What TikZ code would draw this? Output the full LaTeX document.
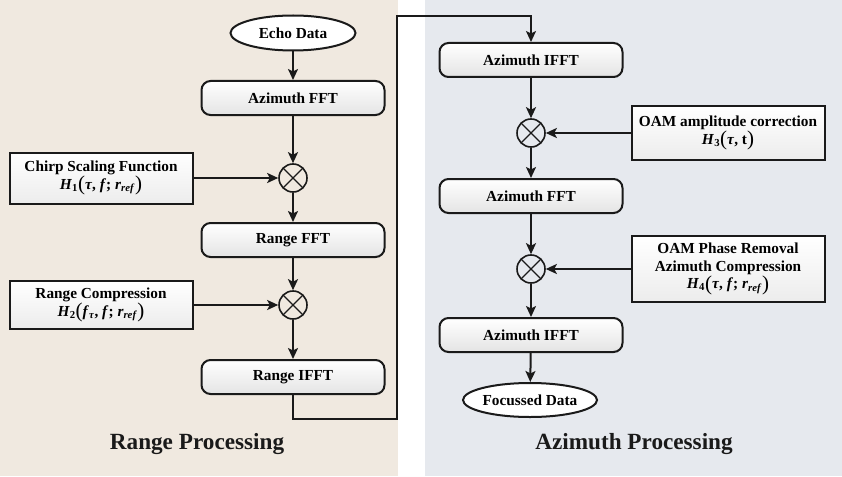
\documentclass[tikz,border=0pt]{standalone}
\usepackage{fontspec}
\setmainfont{Liberation Serif}
\usetikzlibrary{arrows.meta, positioning, shapes.geometric}
\definecolor{rangebg}{HTML}{F0E9E0}
\definecolor{azimbg}{HTML}{E6E9EE}
\definecolor{inkline}{HTML}{1A1A1A}
\definecolor{boxshade}{HTML}{E4E4E4}
\newcommand{\bi}[1]{\textbf{\textit{#1}}}
\newcommand{\bpar}[1]{\raisebox{-0.12em}{\fontsize{21}{21}\selectfont\mdseries(}#1\raisebox{-0.12em}{\fontsize{21}{21}\selectfont\mdseries)}}

\begin{document}
\begin{tikzpicture}[
    x=1pt, y=-1pt,
    stepbox/.style={
        draw=inkline, line width=2pt, rounded corners=9pt,
        minimum width=183pt, minimum height=34pt,
        top color=white, bottom color=boxshade,
        font=\fontsize{15.3}{18}\selectfont\bfseries
    },
    funcbox/.style={
        draw=inkline, line width=2pt,
        minimum width=183pt, align=center,
        top color=white, bottom color=boxshade!70,
        font=\fontsize{15.3}{18}\selectfont\bfseries
    },
    datanode/.style={
        ellipse, draw=inkline, line width=2pt, fill=white,
        minimum width=125pt, minimum height=35pt, inner sep=0pt,
        font=\fontsize{15.3}{18}\selectfont\bfseries
    },
    mixer/.style={
        circle, draw=inkline, line width=1.6pt,
        minimum size=28pt, inner sep=0pt,
        path picture={
            \draw[inkline, line width=1.3pt]
                ([shift={(45:14pt)}]path picture bounding box.center) --
                ([shift={(225:14pt)}]path picture bounding box.center)
                ([shift={(135:14pt)}]path picture bounding box.center) --
                ([shift={(-45:14pt)}]path picture bounding box.center);
        }
    },
    flow/.style={
        -{Stealth[length=11pt, width=10pt, inset=2.5pt]},
        line width=2pt, draw=inkline
    },
    paneltitle/.style={
        font=\fontsize{23.2}{26}\selectfont\bfseries, text=inkline
    },
]

% === Panels ===
\useasboundingbox (0,0) rectangle (842,476);
\fill[white] (0,0) rectangle (842,476);
\fill[rangebg] (0,0) rectangle (398,476);
\fill[azimbg] (425,0) rectangle (842,476);

% === Range processing chain ===
\node[datanode] (echo) at (293,33) {Echo Data};
\node[stepbox] (azfft) at (293,98) {Azimuth FFT};
\node[mixer] (mul1) at (293,178) {};
\node[stepbox] (rfft) at (293,240) {Range FFT};
\node[mixer] (mul2) at (293,305) {};
\node[stepbox] (rifft) at (293,377) {Range IFFT};

% Reference functions
\node[funcbox, minimum height=51pt] (chirp) at (101,178)
    {Chirp Scaling Function\\
     \bi{H}\textsubscript{1}\bpar{\bi{τ}, \bi{f}; \bi{r}\textsubscript{\bi{ref}}}};
\node[funcbox, minimum height=48pt] (rcomp) at (101,305)
    {Range Compression\\
     \bi{H}\textsubscript{2}\bpar{\bi{f}\textsubscript{\bi{τ}}, \bi{f}; \bi{r}\textsubscript{\bi{ref}}}};

% === Azimuth processing chain ===
\node[stepbox] (aifft) at (531,60) {Azimuth IFFT};
\node[mixer] (mul3) at (531,133) {};
\node[stepbox] (afft) at (531,196) {Azimuth FFT};
\node[mixer] (mul4) at (531,269) {};
\node[stepbox] (aifftb) at (531,335) {Azimuth IFFT};
\node[datanode, minimum width=124pt, minimum height=34pt] (focus) at (530,400) {Focussed Data};

% Reference functions
\node[funcbox, minimum width=193pt, minimum height=53pt] (oamamp) at (728,133)
    {OAM amplitude correction\\
     \bi{H}\textsubscript{3}\bpar{\bi{τ}, t}};
\node[funcbox, minimum width=193pt, minimum height=66pt, inner ysep=2pt,
      font=\fontsize{15.3}{17.5}\selectfont\bfseries] (oamphase) at (728,269)
    {OAM Phase Removal\\Azimuth Compression\\
     \bi{H}\textsubscript{4}\bpar{\bi{τ}, \bi{f}; \bi{r}\textsubscript{\bi{ref}}}};

% === Connectors ===
\draw[flow] (echo) -- (azfft);
\draw[flow] (azfft) -- (mul1);
\draw[flow] (mul1) -- (rfft);
\draw[flow] (rfft) -- (mul2);
\draw[flow] (mul2) -- (rifft);
\draw[flow] (chirp) -- (mul1);
\draw[flow] (rcomp) -- (mul2);

% bridge between the two stages
\coordinate (turnlow) at (397,419);
\coordinate (turnhigh) at (397,16);
\draw[flow] (rifft.south) |- (turnlow) -- (turnhigh) -| (aifft.north);

\draw[flow] (aifft) -- (mul3);
\draw[flow] (mul3) -- (afft);
\draw[flow] (afft) -- (mul4);
\draw[flow] (mul4) -- (aifftb);
\draw[flow] (aifftb) -- (focus);
\draw[flow] (oamamp) -- (mul3);
\draw[flow] (oamphase) -- (mul4);

% === Titles ===
\node[paneltitle] (rangetitle) at (197,444) {Range Processing};
\node[paneltitle] (azimtitle) at (634,444) {Azimuth Processing};

\end{tikzpicture}
\end{document}
